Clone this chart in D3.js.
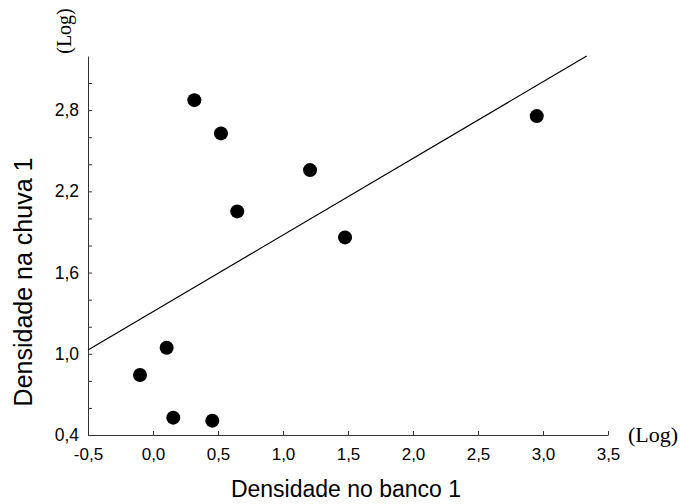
<!DOCTYPE html>
<html>
<head>
<meta charset="utf-8">
<script src="https://cdn.jsdelivr.net/npm/d3@7/dist/d3.min.js"></script>
<style>
  html, body { margin: 0; padding: 0; background: #fff; }
  svg { display: block; }
</style>
</head>
<body>
<svg id="chart" width="680" height="504"></svg>
<script>
// ---- data ----
const xValues = [-0.10, 0.105, 0.156, 0.456, 0.318, 0.523, 0.648, 1.208, 1.477, 2.952];
const yValues = [0.843, 1.045, 0.528, 0.506, 2.874, 2.628, 2.052, 2.357, 1.860, 2.756];
const fitX = [-0.5, 3.336];
const fitY = [1.028, 3.2];
const xTicks = [-0.5, 0.0, 0.5, 1.0, 1.5, 2.0, 2.5, 3.0, 3.5];
const yTicksMajor = [0.4, 1.0, 1.6, 2.2, 2.8];
const yTicksMinor = [0.6, 0.8, 1.2, 1.4, 1.8, 2.0, 2.4, 2.6, 3.0];
const xTitle = "Densidade no banco 1";
const yTitle = "Densidade na chuva 1";
const unitLabel = "(Log)";

// ---- scales ----
const x = d3.scaleLinear().domain([-0.5, 3.5]).range([88, 608]);
const y = d3.scaleLinear().domain([0.4, 3.2]).range([435, 56]);

const loc = d3.formatLocale({decimal: ",", thousands: ".", grouping: [3], currency: ["", ""], minus: "-"});
const fmt = loc.format(".1f");

const svg = d3.select("#chart");
const sans = "'Liberation Sans', Arial, sans-serif";
const serif = "'Liberation Serif', 'Times New Roman', serif";

// x axis
const xAxis = d3.axisBottom(x).tickValues(xTicks).tickFormat(fmt).tickSizeInner(-4).tickSizeOuter(0).tickPadding(13);
const gx = svg.append("g").attr("transform", `translate(0,${y.range()[0]})`).call(xAxis);
gx.select(".domain").attr("stroke", "#333");
gx.selectAll(".tick line").attr("stroke", "#333");
gx.selectAll(".tick text").attr("font-family", sans).attr("font-size", 17).attr("fill", "#000");

// y axis
const yAxis = d3.axisLeft(y).tickValues(yTicksMajor.concat(yTicksMinor))
  .tickFormat(d => yTicksMajor.includes(d) ? fmt(d) : "")
  .tickSizeInner(-4).tickSizeOuter(0).tickPadding(9);
const gy = svg.append("g").attr("transform", `translate(${x.range()[0]},0)`).call(yAxis);
gy.select(".domain").attr("stroke", "#333");
gy.selectAll(".tick line").attr("stroke", "#333");
gy.selectAll(".tick text").attr("font-family", sans).attr("font-size", 17.5).attr("fill", "#000");

// regression line
svg.append("line")
  .attr("x1", x(fitX[0])).attr("y1", y(fitY[0]))
  .attr("x2", x(fitX[1])).attr("y2", y(fitY[1]))
  .attr("stroke", "#000").attr("stroke-width", 1.2);

// points
svg.append("g").selectAll("circle")
  .data(xValues.map((v, i) => [v, yValues[i]]))
  .join("circle")
  .attr("cx", d => x(d[0])).attr("cy", d => y(d[1]))
  .attr("r", 7).attr("fill", "#000");

// titles
svg.append("text")
  .attr("x", 346).attr("y", 497)
  .attr("text-anchor", "middle")
  .attr("font-family", sans).attr("font-size", 23)
  .text(xTitle);

svg.append("text")
  .attr("transform", "translate(32,282) rotate(-90)")
  .attr("text-anchor", "middle")
  .attr("font-family", sans).attr("font-size", 25)
  .text(yTitle);

// (Log) labels
svg.append("text")
  .attr("x", 628).attr("y", 442)
  .attr("font-family", serif).attr("font-size", 22)
  .text(unitLabel);

svg.append("text")
  .attr("transform", "translate(71,31) rotate(-90)")
  .attr("text-anchor", "middle")
  .attr("font-family", serif).attr("font-size", 20)
  .text(unitLabel);
</script>
</body>
</html>
